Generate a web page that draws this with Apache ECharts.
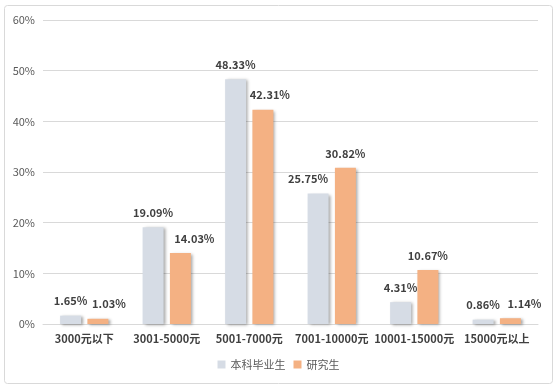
<!DOCTYPE html>
<html><head><meta charset="utf-8">
<script src="https://cdn.jsdelivr.net/npm/echarts@6/dist/echarts.min.js"></script>
<style>html,body{margin:0;padding:0;background:#fff}#c{width:557px;height:390px}</style>
</head><body><div id="c"></div>
<script>
const categories = ['3000元以下','3001-5000元','5001-7000元','7001-10000元','10001-15000元','15000元以上'];
const undergrad = [1.65, 19.09, 48.33, 25.75, 4.31, 0.86];
const graduate = [1.03, 14.03, 42.31, 30.82, 10.67, 1.14];
const seriesNames = ['本科毕业生','研究生'];
const yTicks = [0, 10, 20, 30, 40, 50, 60];

// label horizontal nudges (style only)
const undergradLabelShift = [0, 0, 0, -10, 0, 0];
const graduateLabelShift = [11, 14, 7, 0, 0, 14];

const font = '"Noto Sans CJK SC", "Microsoft YaHei", sans-serif';
const chart = echarts.init(document.getElementById('c'));
const lbl = {
  show: true, position: 'top', distance: 9,
  formatter: p => p.value.toFixed(2) + '%',
  color: '#404040', fontSize: 11, fontWeight: 'bold', fontFamily: font
};
const mk = (vals, shifts) => vals.map((v, i) => ({value: v, label: {offset: [shifts[i], 0]}}));
chart.setOption({
  animation: false,
  graphic: [{type:'rect', shape:{x:4.5,y:5.5,width:548,height:378, r:3}, style:{fill:'none', stroke:'#D9D9D9', lineWidth:1}}],
  grid: {left: 43, right: 19, top: 20, bottom: 66},
  legend: {
    bottom: 15, left: 'center', itemWidth: 8, itemHeight: 8, itemGap: 8,
    icon: 'rect',
    textStyle: {color: '#595959', fontSize: 11, fontFamily: font},
    data: seriesNames
  },
  xAxis: {
    type: 'category', data: categories,
    axisLine: {lineStyle: {color: '#D9D9D9'}},
    axisTick: {show: false},
    axisLabel: {color: '#404040', fontSize: 11, fontWeight: 'bold', fontFamily: font, margin: 9, interval: 0}
  },
  yAxis: {
    type: 'value', min: yTicks[0], max: yTicks[yTicks.length-1], interval: 10,
    axisLine: {show: false}, axisTick: {show: false},
    axisLabel: {formatter: '{value}%', color: '#595959', fontSize: 11, fontFamily: font, margin: 8},
    splitLine: {lineStyle: {color: '#D9D9D9'}}
  },
  series: [
    {name: seriesNames[0], type: 'bar', data: mk(undergrad, undergradLabelShift), barWidth: 21, barGap: '30%',
     itemStyle: {color: '#D6DCE5', shadowColor: 'rgba(0,0,0,0.35)', shadowBlur: 3, shadowOffsetX: 2, shadowOffsetY: 1},
     label: lbl},
    {name: seriesNames[1], type: 'bar', data: mk(graduate, graduateLabelShift), barWidth: 21,
     itemStyle: {color: '#F4B183', shadowColor: 'rgba(0,0,0,0.35)', shadowBlur: 3, shadowOffsetX: 2, shadowOffsetY: 1},
     label: lbl}
  ]
});
</script></body></html>
